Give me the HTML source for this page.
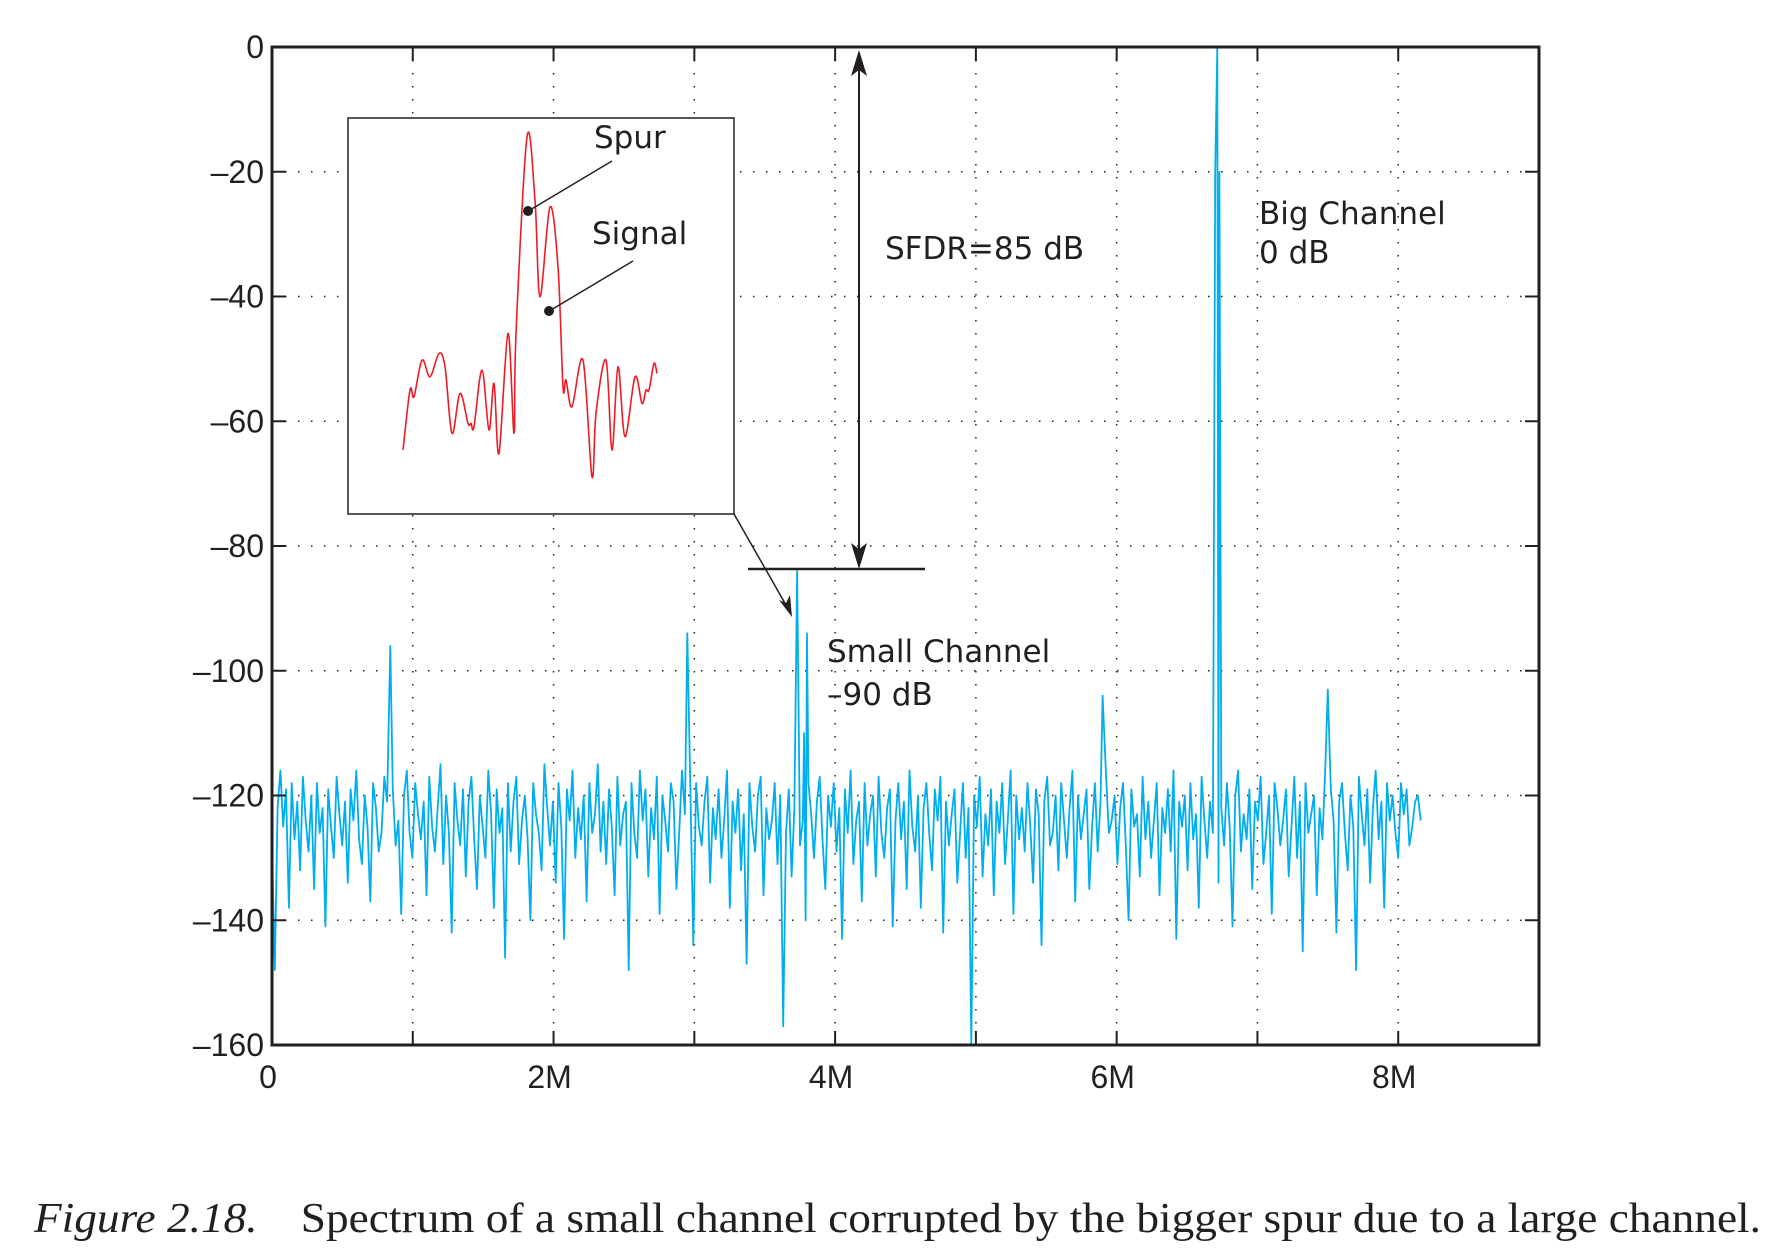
<!DOCTYPE html>
<html><head><meta charset="utf-8"><style>
html,body{margin:0;padding:0;background:#fff;}
svg{display:block;}
.tk{font-family:"Liberation Sans",sans-serif;font-size:32px;fill:#231f20;}
.an{font-family:"DejaVu Sans","Liberation Sans",sans-serif;font-size:31px;fill:#231f20;}
.cap{font-family:"Liberation Serif",serif;font-size:42px;fill:#231f20;}
</style></head><body>
<svg id="chart" width="1775" height="1259" viewBox="0 0 1775 1259" xmlns="http://www.w3.org/2000/svg">
<g id="grid"></g>
<g id="series"></g>
<rect x="272" y="47" width="1267" height="998" fill="none" stroke="#231f20" stroke-width="3"/>
<g id="ticks"></g>
<g id="inset">
<rect x="348" y="118" width="386" height="396" fill="#fff" stroke="#231f20" stroke-width="1.5"/>
</g>
<g>
<line x1="859" y1="60" x2="859" y2="556" stroke="#231f20" stroke-width="2"/>
<polygon points="859,50 851,76 859,70 867,76" fill="#231f20"/>
<polygon points="859,569 851,543 859,549 867,543" fill="#231f20"/>
<line x1="748" y1="569" x2="925" y2="569" stroke="#231f20" stroke-width="2.5"/>
<line x1="734" y1="514" x2="790" y2="612" stroke="#231f20" stroke-width="1.5"/>
<polygon points="792,617 779,600 786,603 790,595" fill="#231f20"/>
<text class="an" x="885" y="259">SFDR=85 dB</text>
<text class="an" x="1259" y="224">Big Channel</text>
<text class="an" x="1259" y="263">0 dB</text>
<text class="an" x="827" y="662">Small Channel</text>
<text class="an" x="827" y="705">–90 dB</text>
<text class="an" x="594" y="148">Spur</text>
<text class="an" x="592" y="244">Signal</text>
</g>
<text class="cap" x="34" y="1232" textLength="1727" lengthAdjust="spacingAndGlyphs"><tspan font-style="italic">Figure 2.18.</tspan><tspan dx="40">Spectrum of a small channel corrupted by the bigger spur due to a large channel.</tspan></text>
</svg>
<script>
const xTicks=[0,1,2,3,4,5,6,7,8,9];
const xTickLabels=["0","","2M","","4M","","6M","","8M",""];
const yTicks=[0,-20,-40,-60,-80,-100,-120,-140,-160];
const yTickLabels=["0","–20","–40","–60","–80","–100","–120","–140","–160"];
const noiseStart=0, noiseStep=0.01995;
const noiseDb=[-128,-148,-122,-116,-125,-119,-138,-118,-127,-121,-132,-117,-124,-129,-120,-135,-118,-126,-122,-141,
-119,-125,-130,-117,-123,-128,-121,-134,-119,-124,-116,-127,-131,-120,-125,-137,-118,-122,-129,-126,
-117,-121,-133,-119,-128,-124,-139,-120,-116,-126,-130,-118,-123,-127,-121,-136,-117,-125,-129,-122,
-115,-131,-120,-126,-142,-118,-124,-128,-119,-133,-121,-117,-127,-135,-120,-125,-130,-116,-123,-138,
-119,-126,-122,-146,-118,-129,-121,-117,-131,-124,-120,-127,-140,-118,-123,-126,-132,-115,-122,-128,
-121,-134,-118,-125,-143,-119,-124,-116,-130,-122,-127,-120,-137,-118,-126,-123,-115,-129,-121,-131,
-119,-125,-136,-117,-128,-123,-121,-148,-118,-126,-130,-116,-124,-119,-133,-122,-127,-117,-139,-120,
-124,-129,-118,-121,-135,-126,-116,-123,-131,-120,-144,-118,-125,-128,-121,-117,-134,-122,-127,-119,
-130,-124,-116,-138,-121,-126,-119,-132,-123,-147,-118,-125,-129,-120,-117,-136,-122,-127,-124,-118,
-131,-120,-157,-126,-119,-133,-122,-116,-128,-124,-140,-118,-123,-130,-121,-117,-127,-135,-120,-125,
-118,-129,-122,-143,-119,-126,-116,-131,-124,-121,-137,-118,-128,-123,-120,-133,-117,-126,-130,-122,
-119,-141,-124,-118,-127,-121,-135,-116,-125,-129,-120,-138,-122,-118,-126,-132,-119,-124,-117,-142,
-121,-128,-123,-119,-134,-126,-118,-130,-122,-160,-120,-125,-117,-133,-123,-128,-119,-136,-121,-126,
-118,-131,-124,-116,-139,-120,-127,-122,-129,-118,-125,-134,-119,-123,-144,-121,-117,-128,-126,-120,
-132,-118,-124,-130,-122,-116,-137,-120,-127,-123,-119,-135,-125,-118,-129,-121,-146,-117,-126,-124,
-120,-131,-122,-118,-128,-140,-119,-125,-123,-133,-117,-127,-121,-130,-124,-118,-136,-122,-126,-119,
-129,-116,-143,-121,-125,-120,-132,-118,-127,-123,-138,-117,-124,-130,-121,-126,-119,-134,-122,-128,
-118,-125,-141,-120,-116,-129,-123,-127,-119,-135,-121,-124,-117,-131,-126,-120,-139,-118,-122,-128,
-124,-119,-133,-125,-117,-130,-121,-145,-118,-126,-123,-120,-136,-122,-127,-116,-129,-119,-124,-142,
-121,-118,-126,-132,-120,-125,-148,-117,-123,-128,-119,-134,-122,-116,-127,-121,-138,-118,-124,-120,
-126,-130,-118,-123,-119,-128,-125,-121,-120,-124];
const spikeMHz=[0.84,2.95,3.73,3.78,3.80,5.90,6.70,6.715,6.73,7.50];
const spikeDb=[-96,-94,-84,-110,-94,-104,-20,0,-20,-103];
const insetX=[0,7,11,19,27,36,42,49,57,65,68,71,79,86,91,96,105,111,113,124,132,137,147,155,160,163,169,180,189,193,203,209,215,222,232,239,243,246,251,254];
const insetDb=[-105,-87,-89,-78,-83,-76,-80,-100,-88,-97,-97,-98,-81,-99,-85,-106,-70,-100,-70,-11,-30,-59,-32,-50,-86,-84,-92,-78,-113,-94,-78,-105,-80,-101,-83,-91,-87,-87,-79,-82];

const NS='http://www.w3.org/2000/svg';
const X0=272,X1=1539,Y0=47,Y1=1045;
const xs=v=>X0+(v/9)*(X1-X0);
const ys=v=>Y0+(-v/160)*(Y1-Y0);
function mk(tag,attrs,parent){const e=document.createElementNS(NS,tag);for(const k in attrs)e.setAttribute(k,attrs[k]);parent.appendChild(e);return e;}
const grid=document.getElementById('grid'),ticks=document.getElementById('ticks'),ser=document.getElementById('series'),inset=document.getElementById('inset');
xTicks.forEach((t,i)=>{
  const x=xs(t);
  if(i>0&&i<xTicks.length-1){
    const g=mk('line',{x1:x,y1:Y0,x2:x,y2:Y1,stroke:'#231f20','stroke-width':1.5,'stroke-dasharray':'1.5 11.5'},grid);
    
    
    const a=mk('line',{x1:x,y1:Y1,x2:x,y2:Y1-14,stroke:'#231f20','stroke-width':2},ticks);
    
    
    const b=mk('line',{x1:x,y1:Y0,x2:x,y2:Y0+14,stroke:'#231f20','stroke-width':2},ticks);
    
    
  }
  if(xTickLabels[i]){
    const tx=mk('text',{x:x-4,y:1088,'text-anchor':'middle','class':'tk'},ticks);
    tx.textContent=xTickLabels[i];
    
    
  }
});
yTicks.forEach((t,i)=>{
  const y=ys(t);
  if(i>0&&i<yTicks.length-1){
    const g=mk('line',{x1:X0,y1:y,x2:X1,y2:y,stroke:'#231f20','stroke-width':1.5,'stroke-dasharray':'1.5 11.5'},grid);
    
    
    const a=mk('line',{x1:X0,y1:y,x2:X0+14,y2:y,stroke:'#231f20','stroke-width':2},ticks);
    
    
    const b=mk('line',{x1:X1,y1:y,x2:X1-14,y2:y,stroke:'#231f20','stroke-width':2},ticks);
    
    
  }
  const tx=mk('text',{x:264,y:y+11,'text-anchor':'end','class':'tk'},ticks);
  tx.textContent=yTickLabels[i];
  
  
});
let pts=noiseDb.map((d,i)=>[noiseStart+i*noiseStep,d]);
spikeMHz.forEach((f,i)=>{pts=pts.filter(p=>Math.abs(p[0]-f)>0.006);pts.push([f,spikeDb[i]]);});
pts.sort((a,b)=>a[0]-b[0]);
const line=mk('polyline',{points:pts.map(p=>xs(p[0]).toFixed(1)+','+ys(Math.max(-160,Math.min(0,p[1]))).toFixed(1)).join(' '),fill:'none',stroke:'#00aeef','stroke-width':1.8,'stroke-linejoin':'round'},ser);


// inset, smoothed with Catmull-Rom
const ix=v=>403+v*1.0, iy=v=>137+(-v-11)*3.33;
const ip=insetX.map((v,i)=>[ix(v),iy(insetDb[i])]);
let d='M'+ip[0][0].toFixed(1)+','+ip[0][1].toFixed(1);
for(let i=0;i<ip.length-1;i++){
  const p0=ip[Math.max(0,i-1)],p1=ip[i],p2=ip[i+1],p3=ip[Math.min(ip.length-1,i+2)];
  const c1=[p1[0]+(p2[0]-p0[0])/6,p1[1]+(p2[1]-p0[1])/6];
  const c2=[p2[0]-(p3[0]-p1[0])/6,p2[1]-(p3[1]-p1[1])/6];
  d+=' C'+c1[0].toFixed(1)+','+c1[1].toFixed(1)+' '+c2[0].toFixed(1)+','+c2[1].toFixed(1)+' '+p2[0].toFixed(1)+','+p2[1].toFixed(1);
}
const il=mk('path',{d:d,fill:'none',stroke:'#ed1c24','stroke-width':1.6,'stroke-linejoin':'round'},inset);


const l1=mk('line',{x1:612,y1:161,x2:530,y2:210,stroke:'#231f20','stroke-width':1.5},inset);


const d1=mk('circle',{cx:528,cy:211,r:5,fill:'#231f20'},inset);


const l2=mk('line',{x1:633,y1:261,x2:551,y2:310,stroke:'#231f20','stroke-width':1.5},inset);


const d2=mk('circle',{cx:549,cy:311,r:5,fill:'#231f20'},inset);


</script>
</body></html>
